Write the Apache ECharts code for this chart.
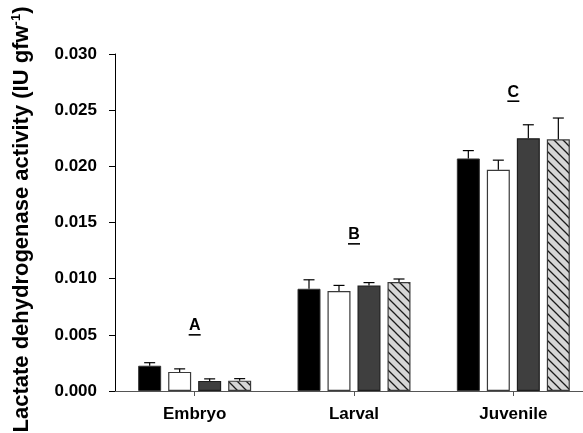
<!DOCTYPE html>
<html>
<head>
<meta charset="utf-8">
<script src="https://cdn.jsdelivr.net/npm/echarts@6/dist/echarts.min.js"></script>
<style>
  html, body { margin: 0; padding: 0; background: #fff; }
  #chart { width: 583px; height: 433px; }
</style>
</head>
<body>
<div id="chart"></div>
<script>
// Developmental stages on the category axis
const stages = ['Embryo', 'Larval', 'Juvenile'];

// Mean LDH activity (IU gfw^-1) and upper error (SE) for each of the four treatments
const treatment1 = [0.00225, 0.0091, 0.0207];
const treatment1Err = [0.00027, 0.0008, 0.0007];
const treatment2 = [0.0017, 0.0089, 0.0197];
const treatment2Err = [0.00027, 0.0005, 0.00085];
const treatment3 = [0.0009, 0.0094, 0.0225];
const treatment3Err = [0.00018, 0.00025, 0.0012];
const treatment4 = [0.00092, 0.0097, 0.0224];
const treatment4Err = [0.00018, 0.00027, 0.0019];

// Significance letters above each stage and the activity level they sit at
const groupLetters = ['A', 'B', 'C'];
const letterLevels = [0.0058, 0.0139, 0.0266];

// Value axis range
const yMin = 0;
const yMax = 0.030;
const yStep = 0.005;

const FONT = "'Liberation Sans', Arial, Helvetica, sans-serif";
const BAR_W = 23;
const GAP_PX = 7;

// Light grey fill with back-slash hatching for the fourth treatment
function hatchPattern() {
  const s = 9;
  const c = document.createElement('canvas');
  c.width = s; c.height = s;
  const g = c.getContext('2d');
  g.fillStyle = '#d6d6d6';
  g.fillRect(0, 0, s, s);
  g.strokeStyle = '#1a1a1a';
  g.lineWidth = 1.3;
  g.beginPath();
  g.moveTo(-2, -2); g.lineTo(s + 2, s + 2);
  g.moveTo(-2, s - 2); g.lineTo(2, s + 2);
  g.moveTo(s - 2, -2); g.lineTo(s + 2, 2);
  g.stroke();
  return c;
}

const barStyles = [
  { color: '#000000', borderColor: '#333333', borderWidth: 1 },
  { color: '#ffffff', borderColor: '#3a3a3a', borderWidth: 1.2 },
  { color: '#3f3f3f', borderColor: '#1e1e1e', borderWidth: 1.2 },
  { color: { image: hatchPattern(), repeat: 'repeat' }, borderColor: '#3a3a3a', borderWidth: 1.2 }
];

const means = [treatment1, treatment2, treatment3, treatment4];
const errs = [treatment1Err, treatment2Err, treatment3Err, treatment4Err];

const barSeries = means.map((vals, k) => ({
  type: 'bar',
  name: 'T' + (k + 1),
  data: vals,
  barWidth: BAR_W,
  barGap: (GAP_PX / BAR_W * 100).toFixed(2) + '%',
  itemStyle: barStyles[k],
  emphasis: { disabled: true },
  z: 2
}));

// Upward error bars with a small cap, offset to sit over each bar
const errorSeries = means.map((vals, k) => ({
  type: 'custom',
  name: 'err' + (k + 1),
  data: vals.map((v, i) => [i, v, errs[k][i]]),
  z: 3,
  silent: true,
  renderItem(params, api) {
    const ci = api.value(0), v = api.value(1), e = api.value(2);
    const base = api.coord([ci, v]);
    const top = api.coord([ci, v + e]);
    const x = base[0] + (k - 1.5) * (BAR_W + GAP_PX);
    const cap = 5.5;
    const st = { stroke: '#000', lineWidth: 1.2, fill: null };
    return {
      type: 'group',
      children: [
        { type: 'line', shape: { x1: x, y1: base[1], x2: x, y2: top[1] }, style: st },
        { type: 'line', shape: { x1: x - cap, y1: top[1], x2: x + cap, y2: top[1] }, style: st }
      ]
    };
  }
}));

// Underlined significance letters
const letterSeries = {
  type: 'custom',
  name: 'letters',
  data: groupLetters.map((t, i) => [i, letterLevels[i], t]),
  z: 4,
  silent: true,
  renderItem(params, api) {
    const p = api.coord([api.value(0), api.value(1)]);
    const t = groupLetters[params.dataIndex];
    return {
      type: 'group',
      children: [
        {
          type: 'text',
          style: {
            text: t, x: p[0], y: p[1],
            align: 'center', verticalAlign: 'middle',
            font: 'bold 16px ' + FONT, fill: '#000'
          }
        },
        {
          type: 'line',
          shape: { x1: p[0] - 6, y1: p[1] + 9, x2: p[0] + 6, y2: p[1] + 9 },
          style: { stroke: '#000', lineWidth: 1.6 }
        }
      ]
    };
  }
};

const chart = echarts.init(document.getElementById('chart'), null, { renderer: 'canvas' });
chart.setOption({
  animation: false,
  backgroundColor: '#ffffff',
  grid: { left: 115, right: -10, top: 54, bottom: 42, containLabel: false, outerBoundsMode: 'none' },
  xAxis: {
    type: 'category',
    data: stages,
    boundaryGap: true,
    axisLine: { show: true, lineStyle: { color: '#555555', width: 1 } },
    axisTick: { show: true, alignWithLabel: true, length: 5, lineStyle: { color: '#555555' } },
    axisLabel: { color: '#000', fontFamily: FONT, fontWeight: 'bold', fontSize: 17, margin: 15 },
    splitLine: { show: false }
  },
  yAxis: {
    type: 'value',
    min: yMin,
    max: yMax,
    interval: yStep,
    axisLine: { show: true, lineStyle: { color: '#000', width: 1 } },
    axisTick: { show: true, length: 6, lineStyle: { color: '#000' } },
    axisLabel: {
      color: '#000', fontFamily: FONT, fontWeight: 'bold', fontSize: 17, margin: 18,
      formatter: v => v.toFixed(3)
    },
    splitLine: { show: false },
    name: '{n|Lactate dehydrogenase activity (IU gfw}{s|-1}{n|)}',
    nameLocation: 'middle',
    nameRotate: 90,
    nameGap: 81,
    nameTextStyle: {
      padding: [0, 0, 0, 6],
      rich: {
        n: { fontFamily: FONT, fontWeight: 'bold', fontSize: 22, color: '#000', lineHeight: 24 },
        s: { fontFamily: FONT, fontWeight: 'bold', fontSize: 13, color: '#000', verticalAlign: 'top', lineHeight: 24 }
      }
    }
  },
  series: [...barSeries, ...errorSeries, letterSeries]
});
</script>
</body>
</html>
